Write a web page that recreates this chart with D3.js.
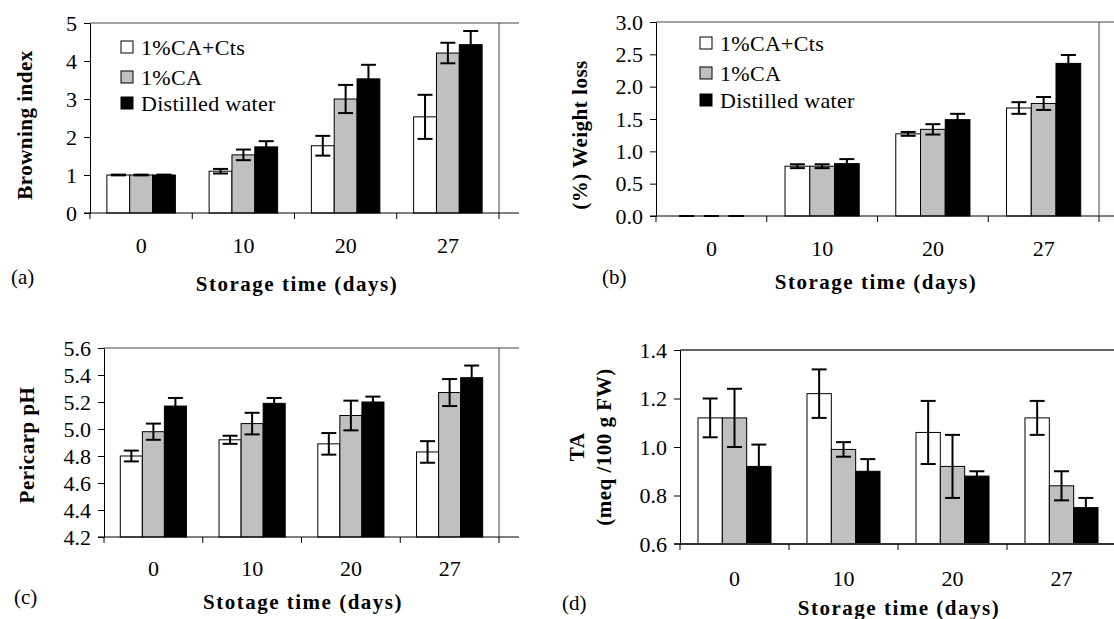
<!DOCTYPE html>
<html>
<head>
<meta charset="utf-8">
<script src="https://cdn.jsdelivr.net/npm/d3@7"></script>
<style>
  body { margin: 0; background: #fff; }
  svg { font-family: "Liberation Serif", "Times New Roman", serif; }
  .tick text { font-size: 22px; fill: #000; }
  .label { font-size: 21px; font-weight: bold; letter-spacing: 1.5px; }
  .letter { font-size: 21px; }
  .legend text { font-size: 22px; }
</style>
</head>
<body>
<svg id="chart" width="1114" height="619"></svg>
<script>
// categories and series
const days = ['0', '10', '20', '27'];
const treatments = ['1%CA+Cts', '1%CA', 'Distilled water'];
const fills = ['#ffffff', '#c0c0c0', '#000000'];

// (a) browning index, one row per treatment
const browningMean = [[1.00, 1.10, 1.77, 2.53], [1.00, 1.53, 3.00, 4.21], [1.00, 1.74, 3.53, 4.43]];
const browningErr = [[0.01, 0.06, 0.26, 0.58], [0.01, 0.14, 0.37, 0.27], [0.01, 0.15, 0.37, 0.36]];
const browningTicks = [0, 1, 2, 3, 4, 5];

// (b) weight loss (%)
const weightMean = [[0.00, 0.77, 1.27, 1.67], [0.00, 0.77, 1.34, 1.74], [0.00, 0.81, 1.49, 2.36]];
const weightErr = [[0.00, 0.03, 0.03, 0.09], [0.00, 0.03, 0.08, 0.10], [0.00, 0.07, 0.09, 0.13]];
const weightTicks = [0, 0.5, 1, 1.5, 2, 2.5, 3];

// (c) pericarp pH
const phMean = [[4.80, 4.92, 4.89, 4.83], [4.98, 5.04, 5.10, 5.27], [5.17, 5.19, 5.20, 5.38]];
const phErr = [[0.04, 0.03, 0.08, 0.08], [0.06, 0.08, 0.11, 0.10], [0.06, 0.04, 0.04, 0.09]];
const phTicks = [4.2, 4.4, 4.6, 4.8, 5.0, 5.2, 5.4, 5.6];

// (d) titratable acidity
const taMean = [[1.12, 1.22, 1.06, 1.12], [1.12, 0.99, 0.92, 0.84], [0.92, 0.90, 0.88, 0.75]];
const taErr = [[0.08, 0.10, 0.13, 0.07], [0.12, 0.03, 0.13, 0.06], [0.09, 0.05, 0.02, 0.04]];
const taTicks = [0.6, 0.8, 1.0, 1.2, 1.4];

const svg = d3.select('#chart');

function drawPanel(p) {
    const g = svg.append('g');

    const x = d3.scaleBand().domain(days).range([p.x0, p.x1]);
    const xs = d3.scaleBand().domain(d3.range(treatments.length))
            .range([x.bandwidth() * 0.165, x.bandwidth() * 0.835]);
    const y = d3.scaleLinear().domain(p.domain).range([p.yBot, p.yTop]);

    // frame (top and right)
    g.append('line')
            .attr('x1', p.x0).attr('x2', p.x1 + 20)
            .attr('y1', p.yTop).attr('y2', p.yTop)
            .attr('stroke', p.frameColor).attr('stroke-width', p.frameWidth);
    if (p.rightFrame) {
        g.append('line')
                .attr('x1', p.x1).attr('x2', p.x1)
                .attr('y1', p.yTop).attr('y2', p.yBot)
                .attr('stroke', p.frameColor).attr('stroke-width', p.frameWidth);
    }

    // bars
    treatments.forEach((t, i) => {
        g.selectAll(null)
                .data(p.mean[i])
                .enter()
                .append('rect')
                .attr('x', (d, j) => x(days[j]) + xs(i))
                .attr('y', d => y(d))
                .attr('width', xs.bandwidth())
                .attr('height', d => p.yBot - y(d))
                .attr('fill', fills[i])
                .attr('stroke', '#000')
                .attr('stroke-width', 1);
    });

    // error bars
    treatments.forEach((t, i) => {
        p.mean[i].forEach((m, j) => {
            const cx = x(days[j]) + xs(i) + xs.bandwidth() / 2;
            const e = p.err[i][j];
            const eg = g.append('g').attr('stroke', '#000').attr('stroke-width', 2);
            eg.append('line').attr('x1', cx).attr('x2', cx).attr('y1', y(m - e)).attr('y2', y(m + e));
            [m - e, m + e].forEach(v => {
                eg.append('line').attr('x1', cx - 7.5).attr('x2', cx + 7.5).attr('y1', y(v)).attr('y2', y(v));
            });
        });
    });

    // y axis
    const yAxis = d3.axisLeft(y)
            .tickValues(p.ticks)
            .tickFormat(p.fmt)
            .tickSizeInner(6)
            .tickSizeOuter(0)
            .tickPadding(7);
    const yG = g.append('g')
            .attr('transform', `translate(${p.x0}, 0)`)
            .call(yAxis)
            .attr('font-family', null)
            .attr('font-size', null);
    yG.select('.domain').attr('stroke', '#000');

    // x axis: labels at band centres, ticks at band edges
    const xAxis = d3.axisBottom(x).tickSize(0).tickPadding(p.xPad);
    const xG = g.append('g')
            .attr('transform', `translate(0, ${p.yBot})`)
            .call(xAxis)
            .attr('font-family', null)
            .attr('font-size', null);
    xG.select('.domain').remove();
    g.append('line')
            .attr('x1', p.x0 - 6).attr('x2', p.x1 + 20)
            .attr('y1', p.yBot).attr('y2', p.yBot)
            .attr('stroke', p.xAxisColor).attr('stroke-width', p.xAxisWidth);
    g.selectAll(null)
            .data(days.map(d => x(d)).concat([p.x1]))
            .enter()
            .append('line')
            .attr('x1', d => d).attr('x2', d => d)
            .attr('y1', p.yBot).attr('y2', p.yBot + 6)
            .attr('stroke', '#000');

    // axis labels
    p.yLabel.forEach((txt, k) => {
        g.append('text')
                .attr('class', 'label')
                .attr('transform', `translate(${p.yLabelX[k]}, ${p.yLabelY}) rotate(-90)`)
                .attr('text-anchor', 'middle')
                .attr('dy', '0.35em')
                .style('letter-spacing', '0.5px')
                .text(txt);
    });
    g.append('text')
            .attr('class', 'label')
            .attr('x', p.xLabelX).attr('y', p.xLabelY)
            .attr('text-anchor', 'middle')
            .attr('dy', '0.35em')
            .text(p.xLabel);
    g.append('text')
            .attr('class', 'letter')
            .attr('x', p.letterX).attr('y', p.letterY)
            .attr('dy', '0.35em')
            .text(p.letter);

    // legend
    if (p.legend) {
        const lg = g.append('g').attr('class', 'legend');
        treatments.forEach((t, i) => {
            lg.append('rect')
                    .attr('x', p.legend.x).attr('y', p.legend.rows[i] - 6)
                    .attr('width', 12).attr('height', 12)
                    .attr('fill', fills[i]).attr('stroke', '#000');
            lg.append('text')
                    .attr('x', p.legend.x + 20).attr('y', p.legend.rows[i])
                    .attr('dy', '0.35em')
                    .style('letter-spacing', '0.3px')
                    .text(t);
        });
    }
}

drawPanel({
    x0: 90, x1: 499, yTop: 23, yBot: 213, domain: [0, 5],
    mean: browningMean, err: browningErr, ticks: browningTicks, fmt: d3.format('d'),
    xPad: 24, frameColor: '#444', frameWidth: 1, rightFrame: true, xAxisColor: '#000', xAxisWidth: 1,
    yLabel: ['Browning index'], yLabelX: [25], yLabelY: 125,
    xLabel: 'Storage time (days)', xLabelX: 297, xLabelY: 284,
    letter: '(a)', letterX: 11, letterY: 277,
    legend: { x: 121, rows: [47, 77, 103] }
});

drawPanel({
    x0: 656, x1: 1099, yTop: 22, yBot: 216, domain: [0, 3],
    mean: weightMean, err: weightErr, ticks: weightTicks, fmt: d3.format('.1f'),
    xPad: 24, frameColor: '#444', frameWidth: 1, rightFrame: true, xAxisColor: '#000', xAxisWidth: 1,
    yLabel: ['(%) Weight loss'], yLabelX: [580], yLabelY: 135,
    xLabel: 'Storage time (days)', xLabelX: 876, xLabelY: 282,
    letter: '(b)', letterX: 602, letterY: 277,
    legend: { x: 700, rows: [43, 73, 100] }
});

drawPanel({
    x0: 104, x1: 499, yTop: 348, yBot: 537, domain: [4.2, 5.6],
    mean: phMean, err: phErr, ticks: phTicks, fmt: d3.format('.1f'),
    xPad: 23, frameColor: '#444', frameWidth: 1, rightFrame: true, xAxisColor: '#000', xAxisWidth: 1,
    yLabel: ['Pericarp pH'], yLabelX: [27], yLabelY: 445,
    xLabel: 'Stotage time (days)', xLabelX: 303, xLabelY: 602,
    letter: '(c)', letterX: 14, letterY: 597,
    legend: null
});

drawPanel({
    x0: 680, x1: 1116, yTop: 350, yBot: 544, domain: [0.6, 1.4],
    mean: taMean, err: taErr, ticks: taTicks, fmt: d3.format('.1f'),
    xPad: 26, frameColor: '#666', frameWidth: 2, rightFrame: false, xAxisColor: '#333', xAxisWidth: 2,
    yLabel: ['TA', '(meq /100 g FW)'], yLabelX: [577, 604], yLabelY: 447,
    xLabel: 'Storage time (days)', xLabelX: 899, xLabelY: 608,
    letter: '(d)', letterX: 562, letterY: 603,
    legend: null
});
</script>
</body>
</html>
